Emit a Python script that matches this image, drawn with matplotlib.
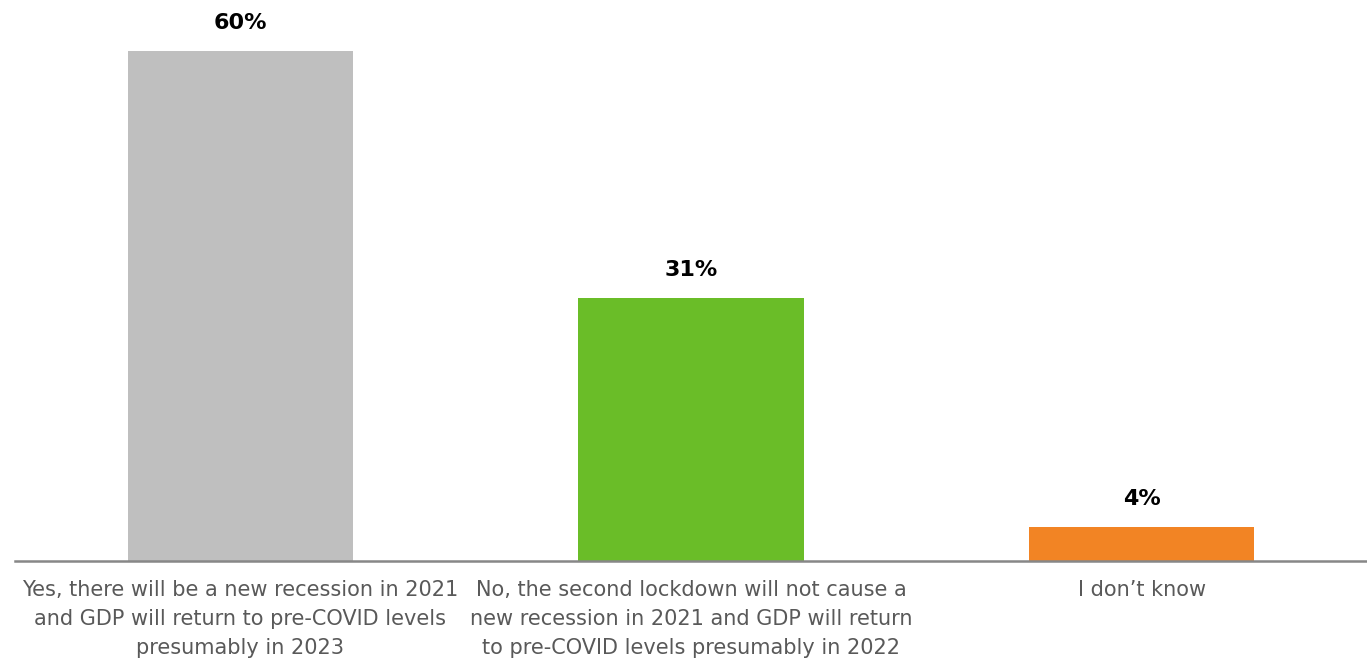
import matplotlib
matplotlib.use("Agg")
import matplotlib.pyplot as plt

categories = [
    "Yes, there will be a new recession in 2021\nand GDP will return to pre-COVID levels\npresumably in 2023",
    "No, the second lockdown will not cause a\nnew recession in 2021 and GDP will return\nto pre-COVID levels presumably in 2022",
    "I don\u2019t know",
]
values = [60, 31, 4]
colors = ["#BFBFBF", "#6ABD28", "#F28424"]

W, H = 1367, 662
fig = plt.figure(figsize=(W / 100, H / 100), dpi=100)
ax = fig.add_axes([15 / W, 1 - 561 / H, 1 - 15 / W, 561 / H])

x = range(len(values))
ax.bar(x, values, width=0.5, color=colors, zorder=2)
ax.set_xlim(-0.5, len(values) - 0.5)
ax.set_ylim(0, 66)

for xi, v in zip(x, values):
    ax.annotate(f"{v}%", (xi, v), xytext=(0, 20), textcoords="offset points",
                ha="center", va="center", fontsize=16, fontweight="bold",
                color="#000000", family="DejaVu Sans")

for side in ["top", "right", "left"]:
    ax.spines[side].set_visible(False)
ax.spines["bottom"].set_color("#878787")
ax.spines["bottom"].set_linewidth(1.8)
ax.set_yticks([])
ax.set_xticks(list(x))
ax.set_xticklabels(categories, fontsize=15, color="#595959", family="DejaVu Sans",
                   linespacing=1.56)
ax.tick_params(axis="x", length=0, pad=14)

fig.savefig("out.png", dpi=100)
